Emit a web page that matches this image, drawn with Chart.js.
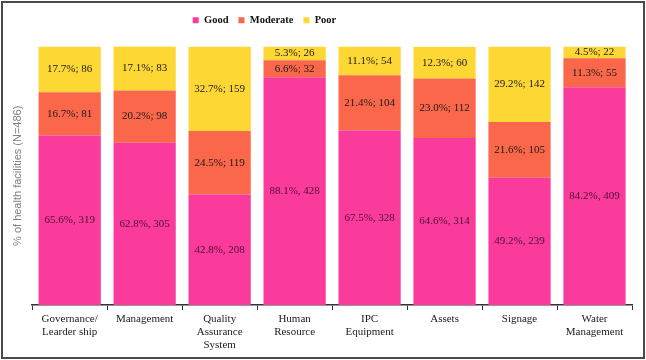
<!DOCTYPE html>
<html>
<head>
<meta charset="utf-8">
<script src="https://cdn.jsdelivr.net/npm/chart.js@4/dist/chart.umd.min.js"></script>
<style>
  html, body { margin: 0; padding: 0; background: #fff; }
  #wrap { position: relative; width: 646px; height: 360px; }
</style>
</head>
<body>
<div id="wrap"><canvas id="c" width="646" height="360"></canvas></div>
<script>
const categories = [
  ["Governance/", "Learder ship"],
  "Management",
  ["Quality", "Assurance", "System"],
  ["Human", "Resource"],
  ["IPC", "Equipment"],
  "Assets",
  "Signage",
  ["Water", "Management"]
];
const goodPct = [65.6, 62.8, 42.8, 88.1, 67.5, 64.6, 49.2, 84.2];
const goodN   = [319, 305, 208, 428, 328, 314, 239, 409];
const moderatePct = [16.7, 20.2, 24.5, 6.6, 21.4, 23.0, 21.6, 11.3];
const moderateN   = [81, 98, 119, 32, 104, 112, 105, 55];
const poorPct = [17.7, 17.1, 32.7, 5.3, 11.1, 12.3, 29.2, 4.5];
const poorN   = [86, 83, 159, 26, 54, 60, 142, 22];
const seriesNames = ["Good", "Moderate", "Poor"];
const yTitle = "% of health facilities (N=486)";

const counts = [goodN, moderateN, poorN];
const separators = [", ", "; ", "; "];
const labelColors = ["#4a0f33", "#1a1a1a", "#1a1a1a"];

const segLabels = {
  id: 'segLabels',
  afterDatasetsDraw(chart) {
    const ctx = chart.ctx;
    ctx.save();
    ctx.font = '11px "Liberation Serif", "Times New Roman", serif';
    ctx.textAlign = 'center';
    ctx.textBaseline = 'middle';
    chart.data.datasets.forEach((ds, di) => {
      const meta = chart.getDatasetMeta(di);
      meta.data.forEach((el, i) => {
        const p = el.getProps(['x', 'y', 'base'], true);
        const cy = (p.y + p.base) / 2;
        const v = ds.data[i];
        ctx.fillStyle = labelColors[di];
        ctx.fillText(v.toFixed(1) + "%" + separators[di] + counts[di][i], p.x, cy);
      });
    });
    ctx.restore();
  }
};

const legendTweak = {
  id: 'legendTweak',
  beforeInit(chart) {
    const lg = chart.legend;
    if (!lg) return;
    const origFit = lg.fit;
    lg.fit = function () {
      origFit.call(this);
      this.height += 11;
    };
  },
  afterLayout(chart) {
    const lg = chart.legend;
    if (!lg) return;
    lg.left -= 57;
    lg.right -= 57;
  }
};

const frame = {
  id: 'frame',
  afterDraw(chart) {
    const ctx = chart.ctx;
    ctx.save();
    ctx.strokeStyle = '#4a4a4a';
    ctx.lineWidth = 2;
    ctx.strokeRect(2, 2, chart.width - 4, chart.height - 4);
    ctx.restore();
  }
};

new Chart(document.getElementById('c'), {
  type: 'bar',
  data: {
    labels: categories,
    datasets: [
      { label: seriesNames[0], data: goodPct, backgroundColor: '#fb3b9c' },
      { label: seriesNames[1], data: moderatePct, backgroundColor: '#fa674a' },
      { label: seriesNames[2], data: poorPct, backgroundColor: '#fdd835' }
    ]
  },
  options: {
    responsive: false,
    animation: false,
    devicePixelRatio: 1,
    layout: { padding: { left: 11, right: 14, top: 5, bottom: 6 } },
    datasets: { bar: { categoryPercentage: 1.0, barPercentage: 0.83 } },
    plugins: {
      legend: {
        position: 'top',
        labels: {
          usePointStyle: true,
          pointStyle: 'rect',
          boxWidth: 6,
          boxHeight: 6,
          color: '#111',
          padding: 10,
          font: { family: '"Liberation Serif", "Times New Roman", serif', size: 10.5, weight: 'bold' }
        }
      },
      tooltip: { enabled: false }
    },
    scales: {
      x: {
        stacked: true,
        grid: { display: true, drawOnChartArea: false, drawTicks: true, tickLength: 5, color: '#333', offset: true },
        border: { display: true, color: '#333', width: 1.5 },
        ticks: {
          color: '#1a1a1a',
          maxRotation: 0,
          autoSkip: false,
          padding: 3,
          font: { family: '"Liberation Serif", "Times New Roman", serif', size: 11, lineHeight: 1.15 }
        }
      },
      y: {
        stacked: true,
        min: 0,
        max: 100,
        grid: { display: false },
        border: { display: false },
        ticks: { display: false },
        title: {
          display: true,
          text: yTitle,
          color: '#808080',
          font: { family: '"Liberation Sans", Arial, sans-serif', size: 11 },
          padding: { top: 0, bottom: 0 }
        }
      }
    }
  },
  plugins: [segLabels, legendTweak, frame]
});
</script>
</body>
</html>
